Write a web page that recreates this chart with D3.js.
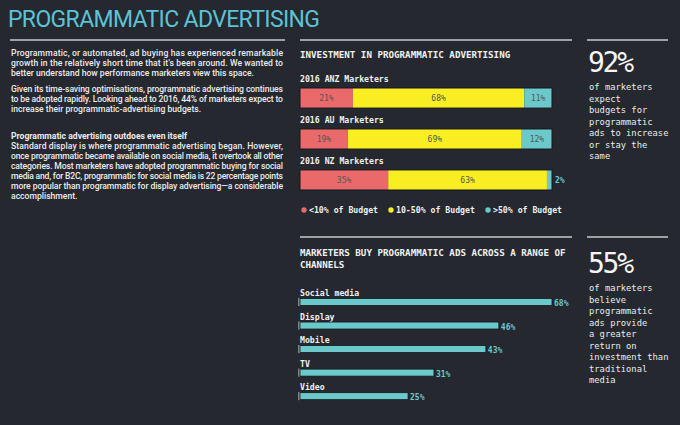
<!DOCTYPE html>
<html><head><meta charset="utf-8">
<script src="https://cdn.jsdelivr.net/npm/d3@7"></script>
<style>
body{margin:0;background:#25282f;}
svg{display:block;}
.mono{font-family:"DejaVu Sans Mono",monospace;}
</style></head>
<body>
<script>
// stacked bars: investment
var groups = ['2016 ANZ Marketers', '2016 AU Marketers', '2016 NZ Marketers'];
var lowBudget = [21, 19, 35];
var midBudget = [68, 69, 63];
var highBudget = [11, 12, 2];
var budgetKeys = ['<10% of Budget', '10-50% of Budget', '>50% of Budget'];
var budgetColours = ['#ea6a6c', '#f8ee22', '#6bc9cc'];

// channel bars
var channels = ['Social media', 'Display', 'Mobile', 'TV', 'Video'];
var channelValues = [68, 46, 43, 31, 25];

var stat1 = ['of marketers', 'expect', 'budgets for', 'programmatic', 'ads to increase', 'or stay the', 'same'];
var stat2 = ['of marketers', 'believe', 'programmatic', 'ads provide', 'a greater', 'return on', 'investment than', 'traditional', 'media'];

var para1 = ['Programmatic, or automated, ad buying has experienced remarkable',
  'growth in the relatively short time that it\u2019s been around. We wanted to',
  'better understand how performance marketers view this space.'];
var para2 = ['Given its time-saving optimisations, programmatic advertising continues',
  'to be adopted rapidly. Looking ahead to 2016, 44% of marketers expect to',
  'increase their programmatic-advertising budgets.'];
var para3 = ['Standard display is where programmatic advertising began. However,',
  'once programmatic became available on social media, it overtook all other',
  'categories. Most marketers have adopted programmatic buying for social',
  'media and, for B2C, programmatic for social media is 22 percentage points',
  'more popular than programmatic for display advertising\u2014a considerable',
  'accomplishment.'];

var svg = d3.select('body').append('svg').attr('width', 680).attr('height', 425);

svg.append('text').attr('x', 8).attr('y', 27)
    .style('font-family', 'Roboto, sans-serif').style('font-size', '23px')
    .attr('fill', '#5cc3d6').attr('textLength', 312).text('PROGRAMMATIC ADVERTISING');

// rules
[[10, 285, 40], [300, 572, 40], [587, 668, 40], [300, 572, 237], [587, 668, 237]].forEach(function (r) {
    svg.append('line').attr('x1', r[0]).attr('x2', r[1]).attr('y1', r[2]).attr('y2', r[2])
        .attr('stroke', '#c8c8c8').attr('stroke-width', 1.5);
});

// left text
function para(lines, y0, bold) {
    svg.append('text').attr('x', 11).attr('y', y0)
        .style('font-family', 'Roboto, sans-serif').style('font-size', '8.6px')
        .style('font-weight', bold ? 700 : 500).attr('fill', '#ececec')
        .selectAll('tspan').data(lines).enter().append('tspan')
        .attr('x', 11).attr('dy', function (d, i) { return i ? 10 : 0; })
        .attr('textLength', function (d, i) { return i === lines.length - 1 ? null : 272; })
        .text(function (d) { return d; });
}
para(para1, 56);
para(para2, 92);
para(['Programmatic advertising outdoes even itself'], 139, true);
para(para3, 149);

var txt = function (x, y, s, size, col, w) {
    return svg.append('text').attr('class', 'mono').attr('x', x).attr('y', y)
        .style('font-size', size + 'px').style('font-weight', w || 700).attr('fill', col || '#f0f0f0').text(s);
};

txt(300, 58, 'INVESTMENT IN PROGRAMMATIC ADVERTISING', 9.2);

// stacked chart
var x = d3.scaleLinear().domain([0, 100]).range([300, 552]);
var y = d3.scaleBand().domain(groups).range([88, 190]).paddingInner(0.51).paddingOuter(0);
var rows = groups.map(function (g, i) { return { g: g, v: [lowBudget[i], midBudget[i], highBudget[i]] }; });

rows.forEach(function (r) {
    var y0 = y(r.g), h = y.bandwidth(), acc = 0;
    txt(300, y0 - 6, r.g, 8.2);
    r.v.forEach(function (v, k) {
        svg.append('rect').attr('x', x(acc)).attr('y', y0).attr('width', x(acc + v) - x(acc)).attr('height', h)
            .attr('fill', budgetColours[k]);
        var mid = x(acc + v / 2);
        if (v >= 5) {
            txt(mid, y0 + h / 2 + 3, v + '%', 8, '#555', 400).attr('text-anchor', 'middle');
        } else {
            txt(x(acc + v) + 3, y0 + h / 2 + 3, v + '%', 8, '#6bc9cc');
        }
        acc += v;
    });
    svg.append('rect').attr('x', 300).attr('y', y0).attr('width', x(100) - 300).attr('height', h)
        .attr('fill', 'none').attr('stroke', '#15171c').attr('stroke-width', 1);
});

// legend
var lx = [304, 391, 488];
budgetKeys.forEach(function (k, i) {
    svg.append('circle').attr('cx', lx[i]).attr('cy', 210).attr('r', 2.7).attr('fill', budgetColours[i]);
    txt(lx[i] + 5, 213, k, 8.2);
});

// channels
txt(300, 256, 'MARKETERS BUY PROGRAMMATIC ADS ACROSS A RANGE OF', 9.2);
txt(300, 268, 'CHANNELS', 9.2);

var cx = d3.scaleLinear().domain([0, 58.3]).range([300, 552]).clamp(true);
var cy = d3.scaleBand().domain(channels).range([290, 403]).paddingInner(0.2);
channels.forEach(function (c, i) {
    var y0 = cy(c);
    txt(300, y0 + 6, c, 8.2);
    svg.append('line').attr('x1', 299).attr('x2', 299).attr('y1', y0 + 8).attr('y2', y0 + 16).attr('stroke', '#ddd');
    svg.append('rect').attr('x', 300).attr('y', y0 + 8.5).attr('width', cx(channelValues[i]) - 300).attr('height', 7)
        .attr('fill', '#6bc9cc').attr('stroke', '#15171c').attr('stroke-width', 0.8);
    txt(cx(channelValues[i]) + 2, y0 + 16, channelValues[i] + '%', 8, '#6bc9cc');
});

// stats
function stat(big, lines, y0) {
    svg.append('text').attr('x', 588).attr('y', y0)
        .style('font-family', '"DejaVu Sans Mono", monospace').style('font-size', '28px').style('font-weight', 300)
        .attr('fill', '#f5f5f5').attr('textLength', 46).text(big);
    lines.forEach(function (l, i) { txt(589, y0 + 18 + i * 11.5, l, 8.8, '#ececec', 400); });
}
stat('92%', stat1, 72);
stat('55%', stat2, 273);
</script>
</body></html>
